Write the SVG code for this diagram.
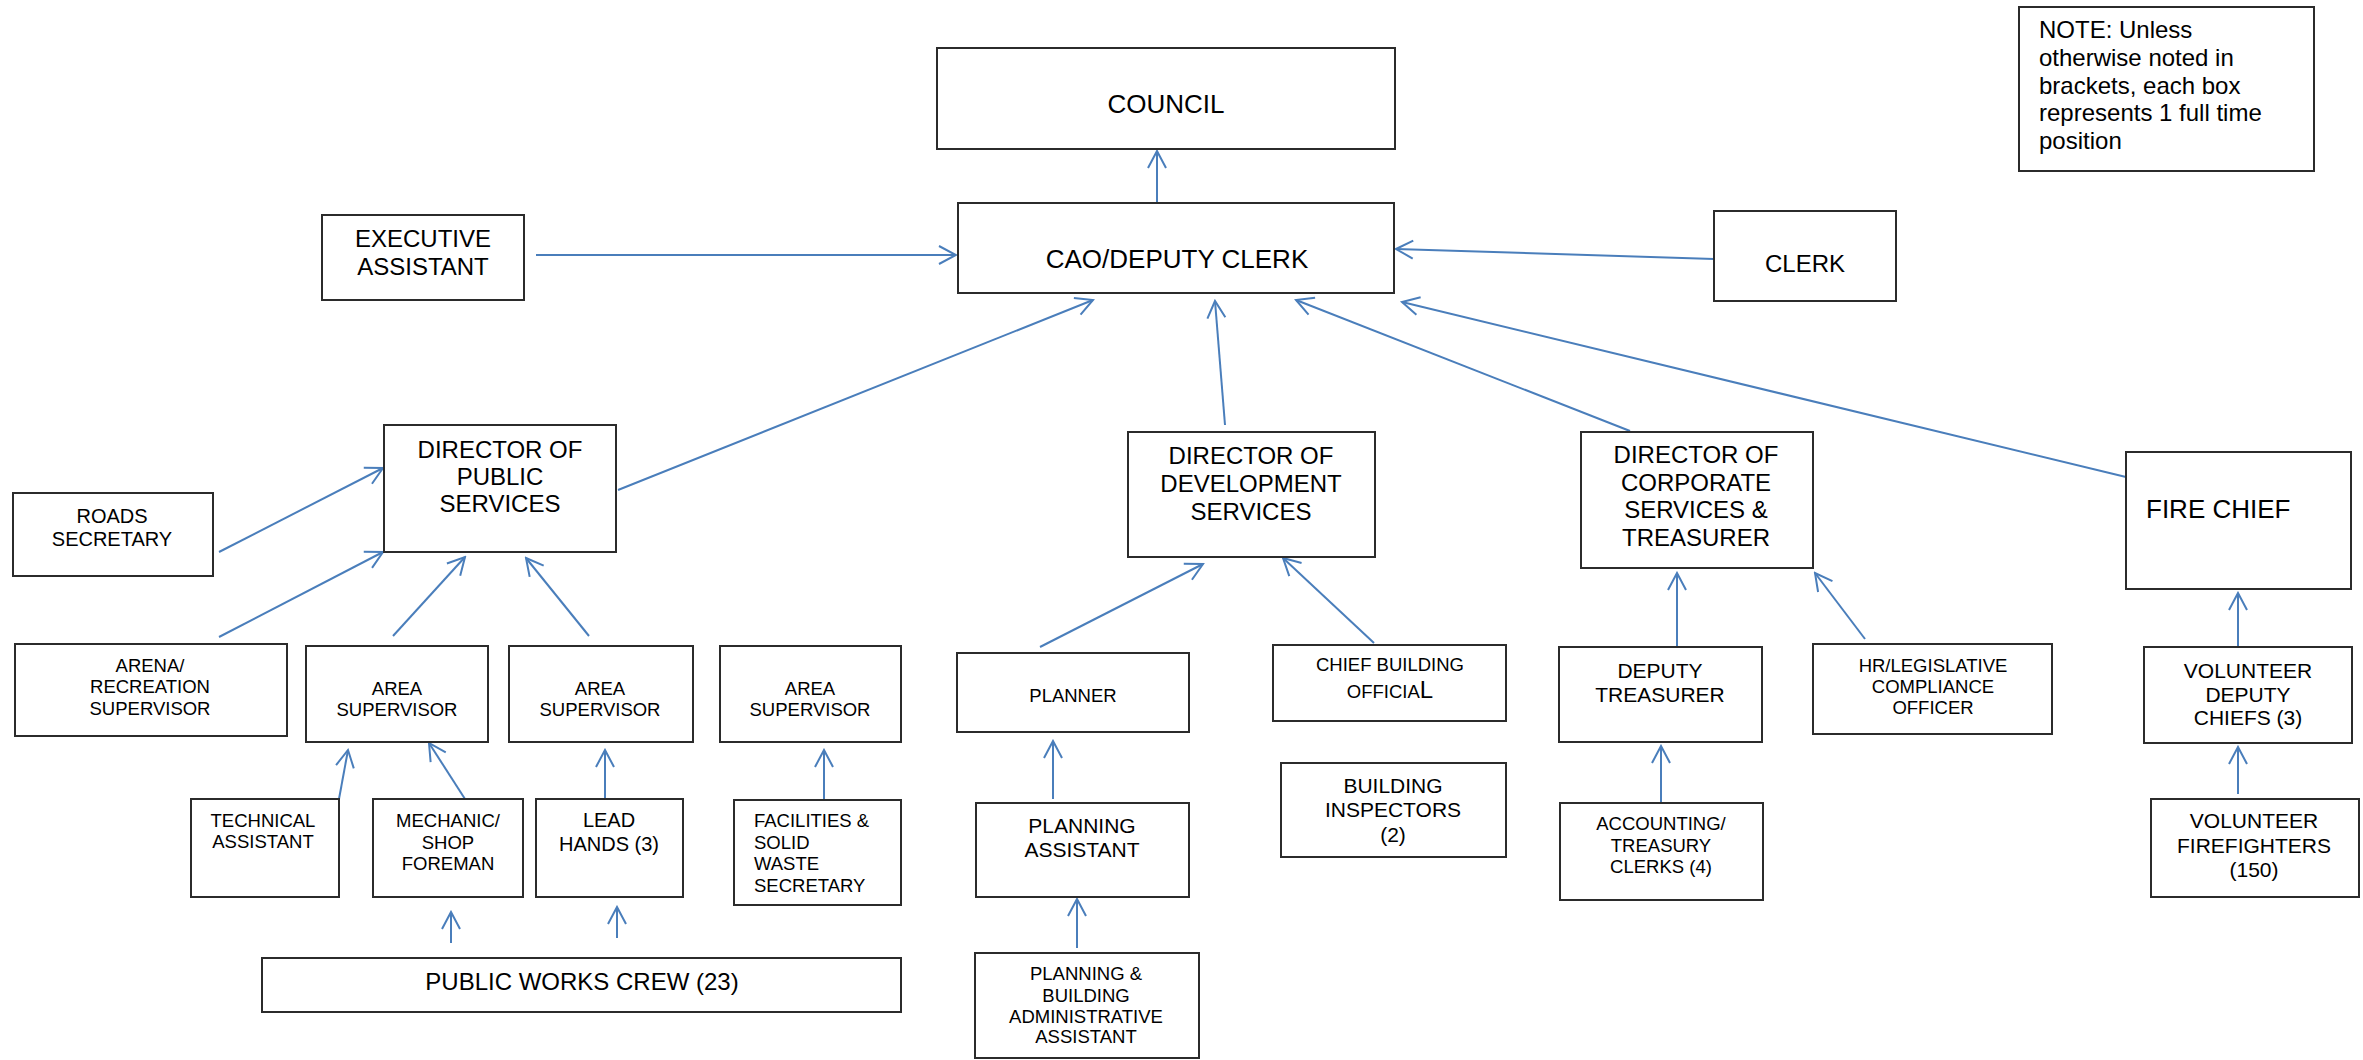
<svg xmlns="http://www.w3.org/2000/svg" width="2363" height="1060" viewBox="0 0 2363 1060">
<style>
.box{fill:#fff;stroke:#2b2b2b;stroke-width:2}
text{font-family:"Liberation Sans",Arial,sans-serif;fill:#000}
.c{text-anchor:middle}
.l{text-anchor:start}
.f26{font-size:26px}.f24{font-size:24px}.f21{font-size:21px}.f20{font-size:20px}.f18{font-size:18.5px}
.ln{fill:none;stroke:#4a7ebb;stroke-width:2;marker-end:url(#ah)}
</style>
<defs>
<marker id="ah" markerUnits="userSpaceOnUse" viewBox="-20 -11 22 22" refX="0" refY="0" markerWidth="22" markerHeight="22" orient="auto">
<path d="M-17,-9 L0,0 L-17,9" fill="none" stroke="#4a7ebb" stroke-width="2"/>
</marker>
</defs>
<g id="connectors">
<line class="ln" x1="1157" y1="206" x2="1157" y2="151"/>
<line class="ln" x1="536" y1="255" x2="956" y2="255"/>
<line class="ln" x1="1714" y1="259" x2="1396" y2="249"/>
<line class="ln" x1="618" y1="490" x2="1093" y2="300"/>
<line class="ln" x1="1225" y1="425" x2="1215" y2="301"/>
<line class="ln" x1="1630" y1="431" x2="1296" y2="300"/>
<line class="ln" x1="2126" y1="477" x2="1402" y2="302"/>
<line class="ln" x1="219" y1="552" x2="383" y2="468"/>
<line class="ln" x1="219" y1="637" x2="383" y2="552"/>
<line class="ln" x1="393" y1="636" x2="465" y2="557"/>
<line class="ln" x1="589" y1="636" x2="526" y2="558"/>
<line class="ln" x1="339" y1="799" x2="348" y2="750"/>
<line class="ln" x1="465" y1="799" x2="429" y2="743"/>
<line class="ln" x1="605" y1="807" x2="605" y2="750"/>
<line class="ln" x1="824" y1="799" x2="824" y2="750"/>
<line class="ln" x1="451" y1="943" x2="451" y2="912"/>
<line class="ln" x1="617" y1="938" x2="617" y2="907"/>
<line class="ln" x1="1040" y1="647" x2="1203" y2="564"/>
<line class="ln" x1="1374" y1="643" x2="1283" y2="558"/>
<line class="ln" x1="1053" y1="799" x2="1053" y2="741"/>
<line class="ln" x1="1077" y1="948" x2="1077" y2="899"/>
<line class="ln" x1="1677" y1="647" x2="1677" y2="573"/>
<line class="ln" x1="1865" y1="639" x2="1815" y2="573"/>
<line class="ln" x1="1661" y1="802" x2="1661" y2="746"/>
<line class="ln" x1="2238" y1="652" x2="2238" y2="593"/>
<line class="ln" x1="2238" y1="794" x2="2238" y2="747"/>
</g>
<g id="council"><rect class="box" x="937" y="48" width="458" height="101"/><text class="c f26" x="1166" y="113">COUNCIL</text></g>
<g id="cao"><rect class="box" x="958" y="203" width="436" height="90"/><text class="c f26" x="1177" y="268">CAO/DEPUTY CLERK</text></g>
<g id="exec-assistant"><rect class="box" x="322" y="215" width="202" height="85"/><text class="c f24" x="423" y="247">EXECUTIVE</text><text class="c f24" x="423" y="275">ASSISTANT</text></g>
<g id="clerk"><rect class="box" x="1714" y="211" width="182" height="90"/><text class="c f24" x="1805" y="272">CLERK</text></g>
<g id="note"><rect class="box" x="2019" y="7" width="295" height="164"/>
<text class="l f24" x="2039" y="38">NOTE: Unless</text><text class="l f24" x="2039" y="66">otherwise noted in</text><text class="l f24" x="2039" y="94">brackets, each box</text><text class="l f24" x="2039" y="121">represents 1 full time</text><text class="l f24" x="2039" y="149">position</text></g>
<g id="dir-public"><rect class="box" x="384" y="425" width="232" height="127"/><text class="c f24" x="500" y="458">DIRECTOR OF</text><text class="c f24" x="500" y="485">PUBLIC</text><text class="c f24" x="500" y="512">SERVICES</text></g>
<g id="roads-secretary"><rect class="box" x="13" y="493" width="200" height="83"/><text class="c f20" x="112" y="523">ROADS</text><text class="c f20" x="112" y="546">SECRETARY</text></g>
<g id="arena"><rect class="box" x="15" y="644" width="272" height="92"/><text class="c f18" x="150" y="672">ARENA/</text><text class="c f18" x="150" y="693">RECREATION</text><text class="c f18" x="150" y="715">SUPERVISOR</text></g>
<g id="area-sup-1"><rect class="box" x="306" y="646" width="182" height="96"/><text class="c f18" x="397" y="695">AREA</text><text class="c f18" x="397" y="716">SUPERVISOR</text></g>
<g id="area-sup-2"><rect class="box" x="509" y="646" width="184" height="96"/><text class="c f18" x="600" y="695">AREA</text><text class="c f18" x="600" y="716">SUPERVISOR</text></g>
<g id="area-sup-3"><rect class="box" x="720" y="646" width="181" height="96"/><text class="c f18" x="810" y="695">AREA</text><text class="c f18" x="810" y="716">SUPERVISOR</text></g>
<g id="technical-assistant"><rect class="box" x="191" y="799" width="148" height="98"/><text class="c f18" x="263" y="827">TECHNICAL</text><text class="c f18" x="263" y="848">ASSISTANT</text></g>
<g id="mechanic"><rect class="box" x="373" y="799" width="150" height="98"/><text class="c f18" x="448" y="827">MECHANIC/</text><text class="c f18" x="448" y="849">SHOP</text><text class="c f18" x="448" y="870">FOREMAN</text></g>
<g id="lead-hands"><rect class="box" x="536" y="799" width="147" height="98"/><text class="c f20" x="609" y="827">LEAD</text><text class="c f20" x="609" y="851">HANDS (3)</text></g>
<g id="facilities"><rect class="box" x="734" y="800" width="167" height="105"/><text class="l f18" x="754" y="827">FACILITIES &amp;</text><text class="l f18" x="754" y="849">SOLID</text><text class="l f18" x="754" y="870">WASTE</text><text class="l f18" x="754" y="892">SECRETARY</text></g>
<g id="public-works-crew"><rect class="box" x="262" y="958" width="639" height="54"/><text class="c f24" x="582" y="990">PUBLIC WORKS CREW (23)</text></g>
<g id="dir-development"><rect class="box" x="1128" y="432" width="247" height="125"/><text class="c f24" x="1251" y="464">DIRECTOR OF</text><text class="c f24" x="1251" y="492">DEVELOPMENT</text><text class="c f24" x="1251" y="520">SERVICES</text></g>
<g id="planner"><rect class="box" x="957" y="653" width="232" height="79"/><text class="c f18" x="1073" y="702">PLANNER</text></g>
<g id="chief-building-official"><rect class="box" x="1273" y="645" width="233" height="76"/><text class="c f18" x="1390" y="671">CHIEF BUILDING</text><text class="c f18" x="1390" y="698">OFFICIA<tspan font-size="24px">L</tspan></text></g>
<g id="building-inspectors"><rect class="box" x="1281" y="763" width="225" height="94"/><text class="c f21" x="1393" y="793">BUILDING</text><text class="c f21" x="1393" y="817">INSPECTORS</text><text class="c f21" x="1393" y="842">(2)</text></g>
<g id="planning-assistant"><rect class="box" x="976" y="803" width="213" height="94"/><text class="c f21" x="1082" y="833">PLANNING</text><text class="c f21" x="1082" y="857">ASSISTANT</text></g>
<g id="planning-admin"><rect class="box" x="975" y="953" width="224" height="105"/><text class="c f18" x="1086" y="980">PLANNING &amp;</text><text class="c f18" x="1086" y="1002">BUILDING</text><text class="c f18" x="1086" y="1023">ADMINISTRATIVE</text><text class="c f18" x="1086" y="1043">ASSISTANT</text></g>
<g id="dir-corporate"><rect class="box" x="1581" y="432" width="232" height="136"/><text class="c f24" x="1696" y="463">DIRECTOR OF</text><text class="c f24" x="1696" y="491">CORPORATE</text><text class="c f24" x="1696" y="518">SERVICES &amp;</text><text class="c f24" x="1696" y="546">TREASURER</text></g>
<g id="deputy-treasurer"><rect class="box" x="1559" y="647" width="203" height="95"/><text class="c f21" x="1660" y="678">DEPUTY</text><text class="c f21" x="1660" y="702">TREASURER</text></g>
<g id="hr-officer"><rect class="box" x="1813" y="644" width="239" height="90"/><text class="c f18" x="1933" y="672">HR/LEGISLATIVE</text><text class="c f18" x="1933" y="693">COMPLIANCE</text><text class="c f18" x="1933" y="714">OFFICER</text></g>
<g id="accounting-clerks"><rect class="box" x="1560" y="803" width="203" height="97"/><text class="c f18" x="1661" y="830">ACCOUNTING/</text><text class="c f18" x="1661" y="852">TREASURY</text><text class="c f18" x="1661" y="873">CLERKS (4)</text></g>
<g id="fire-chief"><rect class="box" x="2126" y="452" width="225" height="137"/><text class="l f26" x="2146" y="518">FIRE CHIEF</text></g>
<g id="volunteer-deputy-chiefs"><rect class="box" x="2144" y="647" width="208" height="96"/><text class="c f21" x="2248" y="678">VOLUNTEER</text><text class="c f21" x="2248" y="702">DEPUTY</text><text class="c f21" x="2248" y="725">CHIEFS (3)</text></g>
<g id="volunteer-firefighters"><rect class="box" x="2151" y="799" width="208" height="98"/><text class="c f21" x="2254" y="828">VOLUNTEER</text><text class="c f21" x="2254" y="853">FIREFIGHTERS</text><text class="c f21" x="2254" y="877">(150)</text></g>
</svg>
